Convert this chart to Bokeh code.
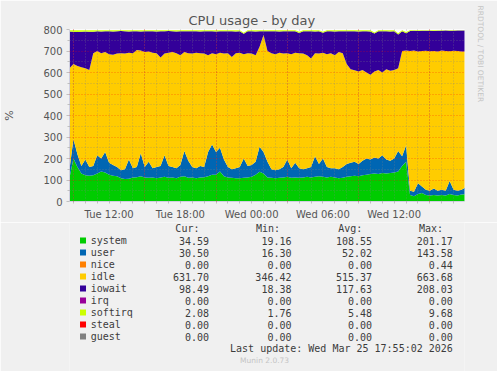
import math
import pandas as pd
from bokeh.plotting import figure
from bokeh.models import ColumnDataSource, FixedTicker, DatetimeTickFormatter, Range1d, Title
from bokeh.layouts import column
from bokeh.embed import file_html
from bokeh.resources import INLINE
from bokeh.core.properties import value

# ---------------- data ----------------
start_time = "2026-03-24 08:40"
end_time = "2026-03-25 17:55"

system = [110, 200, 160, 130, 122, 120, 122, 130, 140, 135,
          125, 120, 118, 108, 105, 106, 112, 113, 118, 112,
          110, 112, 108, 112, 115, 110, 112, 108, 115, 118,
          110, 112, 108, 112, 113, 118, 125, 125, 140, 118,
          112, 110, 108, 108, 110, 112, 115, 125, 138, 130,
          112, 110, 108, 110, 112, 115, 110, 112, 110, 112,
          115, 112, 115, 118, 115, 112, 115, 112, 108, 110,
          115, 118, 120, 118, 122, 125, 128, 130, 128, 132,
          130, 133, 135, 140, 165, 185, 30, 25, 35, 40,
          30, 28, 30, 28, 30, 28, 35, 30, 28, 32, 34]

user = [40, 90, 60, 35, 73, 40, 43, 85, 60, 95,
        55, 50, 42, 37, 45, 89, 43, 47, 107, 48,
        75, 43, 52, 53, 100, 55, 48, 47, 55, 117,
        80, 48, 47, 53, 47, 112, 140, 105, 110, 77,
        48, 40, 47, 52, 90, 53, 55, 60, 117, 100,
        73, 40, 37, 40, 48, 80, 45, 68, 45, 38,
        40, 48, 95, 57, 85, 48, 40, 43, 42, 50,
        60, 62, 65, 57, 68, 75, 67, 75, 72, 83,
        65, 57, 65, 95, 45, 77, 20, 20, 50, 30,
        25, 22, 30, 22, 25, 22, 60, 25, 22, 23, 31]

idle = [470, 350, 410, 460, 425, 452, 525, 485, 490, 465,
        505, 512, 528, 545, 538, 497, 535, 545, 477, 535,
        513, 537, 530, 505, 473, 527, 535, 535, 510, 460,
        500, 528, 537, 525, 528, 450, 425, 455, 442, 493,
        530, 522, 535, 532, 485, 525, 518, 495, 465, 544,
        515, 540, 540, 542, 528, 495, 530, 512, 535, 538,
        525, 505, 480, 513, 492, 525, 535, 525, 545, 530,
        465, 435, 425, 430, 422, 400, 395, 400, 412, 385,
        420, 418, 412, 385, 490, 440, 650, 657, 613, 630,
        646, 649, 640, 648, 647, 650, 604, 646, 650, 643, 632]

iowait = [171, 149, 158, 165, 171, 177, 100, 92, 101, 97,
          107, 109, 104, 103, 104, 99, 102, 87, 89, 97,
          94, 100, 101, 122, 104, 101, 97, 101, 112, 97,
          102, 104, 100, 101, 104, 112, 102, 106, 100, 104,
          102, 120, 101, 100, 95, 102, 104, 111, 72, 18,
          92, 102, 107, 99, 104, 102, 107, 100, 94, 104,
          112, 127, 101, 104, 93, 107, 102, 111, 97, 102,
          152, 177, 182, 186, 180, 192, 201, 176, 180, 192,
          177, 183, 180, 157, 92, 81, 93, 92, 95, 94,
          93, 95, 93, 96, 92, 95, 95, 93, 95, 97, 98]

softirq = [6, 8, 9, 7, 6, 8, 7, 5, 6, 5,
           5, 6, 5, 4, 5, 6, 5, 5, 6, 5,
           5, 5, 6, 5, 5, 4, 5, 6, 5, 5,
           5, 5, 5, 6, 5, 5, 5, 6, 5, 5,
           5, 5, 6, 5, 5, 5, 5, 6, 5, 5,
           5, 5, 5, 6, 5, 5, 5, 5, 6, 5,
           5, 5, 6, 5, 5, 5, 5, 6, 5, 5,
           5, 5, 5, 6, 5, 5, 6, 5, 5, 5,
           5, 6, 5, 5, 5, 5, 4, 3, 4, 3,
           3, 3, 4, 3, 3, 2, 3, 3, 2, 2, 2]

legend_names = ["system", "user", "nice", "idle", "iowait", "irq", "softirq", "steal", "guest"]
legend_colors = ["#00CC00", "#0066B3", "#FF8000", "#FFCC00", "#330099", "#990099", "#CCFF00", "#FF0000", "#808080"]
cur_vals = [34.59, 30.50, 0.00, 631.70, 98.49, 0.00, 2.08, 0.00, 0.00]
min_vals = [19.16, 16.30, 0.00, 346.42, 18.38, 0.00, 1.76, 0.00, 0.00]
avg_vals = [108.55, 52.02, 0.00, 515.37, 117.63, 0.00, 5.48, 0.00, 0.00]
max_vals = [201.17, 143.58, 0.44, 663.68, 208.03, 0.00, 9.68, 0.00, 0.00]

label_times = ["2026-03-24 12:00", "2026-03-24 18:00", "2026-03-25 00:00",
               "2026-03-25 06:00", "2026-03-25 12:00"]
major_grid_times = ["2026-03-24 09:00", "2026-03-24 15:00", "2026-03-24 21:00",
                    "2026-03-25 03:00", "2026-03-25 09:00", "2026-03-25 15:00"]
y_ticks = [0, 100, 200, 300, 400, 500, 600, 700, 800]
y_minor = [50, 150, 250, 350, 450, 550, 650, 750]

title_text = "CPU usage - by day"
side_text = "RRDTOOL / TOBI OETIKER"
update_text = "Last update: Wed Mar 25 17:55:02 2026"
version_text = "Munin 2.0.73"

# ---------------- helpers ----------------
def ms(s):
    return int(pd.Timestamp(s).value // 10**6)

t = pd.date_range(start_time, periods=len(system), freq="20min")
hour_ticks = [int(x.value // 10**6) for x in pd.date_range("2026-03-24 09:00", "2026-03-25 17:00", freq="1h")]

src = ColumnDataSource(dict(t=t, system=system, user=user, idle=idle, iowait=iowait, softirq=softirq))

BG = "#F0F0F0"
TXT = "#555555"

p = figure(width=497, height=222, x_axis_type="datetime",
           x_range=Range1d(ms(start_time), ms(end_time)), y_range=Range1d(0, 800),
           output_backend="svg", toolbar_location=None,
           min_border_left=67, min_border_right=31, min_border_top=29, min_border_bottom=19)
p.background_fill_color = "white"
p.border_fill_color = BG
p.outline_line_color = None

p.varea_stack(stackers=["system", "user", "idle", "iowait", "softirq"], x="t",
              color=["#00CC00", "#0066B3", "#FFCC00", "#330099", "#CCFF00"], source=src)

fmt = "%a %H:%M"
xa = p.xaxis[0]
xa.ticker = FixedTicker(ticks=[ms(s) for s in label_times], minor_ticks=hour_ticks)
xa.formatter = DatetimeTickFormatter(microseconds=fmt, milliseconds=fmt, seconds=fmt, minsec=fmt,
                                     minutes=fmt, hourmin=fmt, hours=fmt, days=fmt, months=fmt, years=fmt)
xa.major_tick_out = 0
xa.major_tick_in = 0
xa.minor_tick_out = 2
xa.minor_tick_in = 0
xa.minor_tick_line_color = "#c0c0c0"
xa.axis_line_color = "#d0d0e0"
xa.major_label_standoff = 5
xa.major_label_text_font = "DejaVu Sans"
xa.major_label_text_font_size = "10px"
xa.major_label_text_color = TXT

ya = p.yaxis[0]
ya.ticker = FixedTicker(ticks=y_ticks, minor_ticks=y_minor)
ya.major_tick_out = 3
ya.major_tick_in = 0
ya.minor_tick_out = 2
ya.minor_tick_in = 0
ya.major_tick_line_color = "#c0c0c0"
ya.minor_tick_line_color = "#c0c0c0"
ya.axis_line_color = "#d0d0e0"
ya.major_label_standoff = 4
ya.major_label_text_font = "DejaVu Sans"
ya.major_label_text_font_size = "10px"
ya.major_label_text_color = TXT
ya.axis_label = "%"
ya.axis_label_standoff = 24
ya.axis_label_text_font = "DejaVu Sans"
ya.axis_label_text_font_style = "normal"
ya.axis_label_text_font_size = "11px"
ya.axis_label_text_color = TXT

p.xgrid.ticker = FixedTicker(ticks=[ms(s) for s in major_grid_times], minor_ticks=hour_ticks)
p.ygrid.ticker = FixedTicker(ticks=y_ticks, minor_ticks=y_minor)
for g in (p.xgrid[0], p.ygrid[0]):
    g.level = "overlay"
    g.grid_line_color = "#FF0000"
    g.grid_line_alpha = 0.4
    g.grid_line_dash = "1 2"
    g.minor_grid_line_color = "#808080"
    g.minor_grid_line_alpha = 0.45
    g.minor_grid_line_dash = "1 2"

# title above and vertical credit on the right
p.title.text = title_text
p.title.align = "left"
p.title.offset = 119
p.title.standoff = 4
p.title.text_font = "DejaVu Sans"
p.title.text_font_size = "13px"
p.title.text_font_style = "normal"
p.title.text_color = TXT

p.add_layout(Title(text=side_text, align="left", offset=-24, standoff=22,
                   text_font="DejaVu Sans", text_font_size="7.5px", text_font_style="normal",
                   text_color="#c4c4c4"), "right")

# ---------------- legend table ----------------
q = figure(width=497, height=149, x_range=Range1d(0, 497), y_range=Range1d(149, 0),
           output_backend="svg", toolbar_location=None, min_border=0,
           x_axis_location=None, y_axis_location=None)
q.grid.visible = False
q.outline_line_color = None
q.background_fill_color = BG
q.border_fill_color = BG

rows = [18 + 12 * k for k in range(len(legend_names))]
mono = value("DejaVu Sans Mono")
LT = "#3c3c3c"

q.scatter(x=[17] * len(rows), y=rows, marker="square", size=6, color=legend_colors, line_color=None)
q.text(x=[26.7] * len(rows), y=rows, text=legend_names, text_font=mono, text_font_size="10px",
       text_align="left", text_baseline="middle", text_color=LT)

col_right = [175.7, 279.3, 380.7, 482.3]
for xr, vals in zip(col_right, [cur_vals, min_vals, avg_vals, max_vals]):
    q.text(x=[xr] * len(rows), y=rows, text=[f"{v:.2f}" for v in vals], text_font=mono,
           text_font_size="10px", text_align="right", text_baseline="middle", text_color=LT)

q.text(x=[163.5, 265.0, 368.3, 470.0], y=[6] * 4, text=["Cur:", "Min:", "Avg:", "Max:"],
       text_font=mono, text_font_size="10px", text_align="right", text_baseline="middle", text_color=LT)
q.text(x=[482.3], y=[126], text=[update_text], text_font=mono, text_font_size="10px",
       text_align="right", text_baseline="middle", text_color=LT)
q.text(x=[245.5], y=[138], text=[version_text], text_font=value("DejaVu Sans"), text_font_size="7.5px",
       text_align="center", text_baseline="middle", text_color="#c4c4c4")

layout = column(p, q, spacing=0)
open("out.html", "w").write(file_html(layout, INLINE))
